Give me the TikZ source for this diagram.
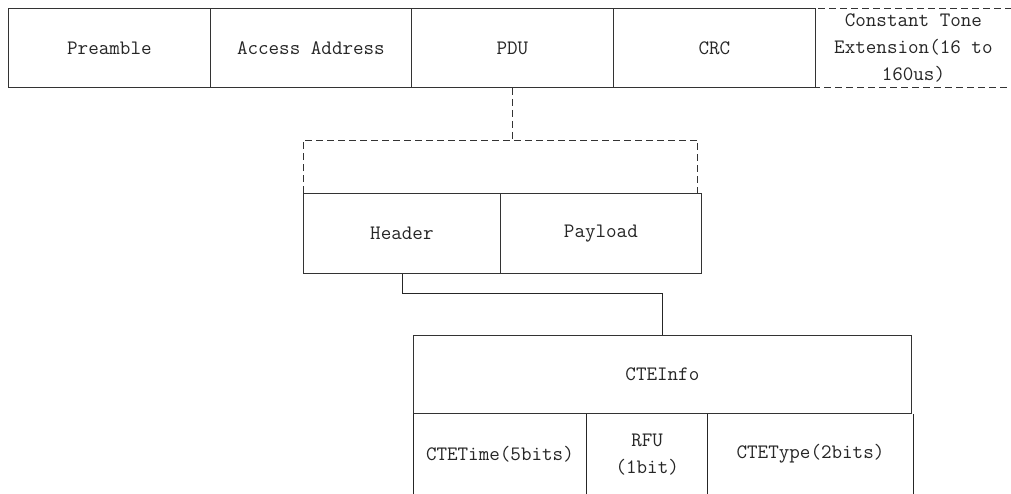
\documentclass[tikz,border=0pt]{standalone}
\usetikzlibrary{positioning}

\tikzset{
  field/.style={draw=black!80,line width=0.8pt,inner sep=0pt,anchor=north west,
    minimum height=79pt,align=center,font=\ttfamily\fontsize{20.5}{27}\selectfont,text=black!85},
  cell/.style={field,draw=none,minimum height=80pt},
  dashline/.style={draw=black!80,line width=0.8pt,dash pattern=on 7pt off 4pt},
  link/.style={draw=black!85,line width=0.8pt}
}

\begin{document}
\begin{tikzpicture}[x=1pt,y=-1pt]
  \useasboundingbox[fill=white] (0,0) rectangle (1011,493);
  % packet fields
  \node[field,minimum width=202pt] (pre) at (8,8) {Preamble};
  \node[field,minimum width=201pt] (aa) at (210,8) {Access Address};
  \node[field,minimum width=202pt] (pdu) at (411,8) {PDU};
  \node[field,minimum width=202pt] (crc) at (613,8) {CRC};
  \node[cell,minimum width=196pt,minimum height=79pt] (cte) at (815,8)
    {Constant Tone\\Extension(16 to\\160us)};
  \draw[dashline] (cte.north east) -- (cte.north west) -- (cte.south west) -- (cte.south east);
  % PDU split
  \node[field,minimum width=197pt,minimum height=80pt] (hdr) at (303,193) {Header};
  \node[field,minimum width=201pt,minimum height=80pt] (pay) at (500,193) {Payload};
  \coordinate (brl) at ([yshift=53pt]hdr.north west);
  \coordinate (brr) at ([xshift=-4pt,yshift=53pt]pay.north east);
  \draw[dashline] (hdr.north west) -- (brl) -- (brr) -- (brr |- pay.north);
  \draw[dashline] (pdu.south) -- (pdu.south |- brl);
  % CTEInfo
  \node[field,minimum width=498pt,minimum height=78pt] (info) at (413,335) {CTEInfo};
  \draw[link] (hdr.south) -- ++(0,20) -| (info.north);
  \node[cell,minimum width=173pt] (time) at (info.south west) {CTETime(5bits)};
  \node[cell,minimum width=120pt] (rfu) at (time.north east) {RFU\\(1bit)};
  \node[cell,minimum width=205pt] (type) at (rfu.north east) {CTEType(2bits)};
  \draw[link] (time.south west) -- (time.north west)
              (time.south east) -- (time.north east)
              (rfu.south east) -- (rfu.north east)
              (type.south east) -- (type.north east);
\end{tikzpicture}
\end{document}
